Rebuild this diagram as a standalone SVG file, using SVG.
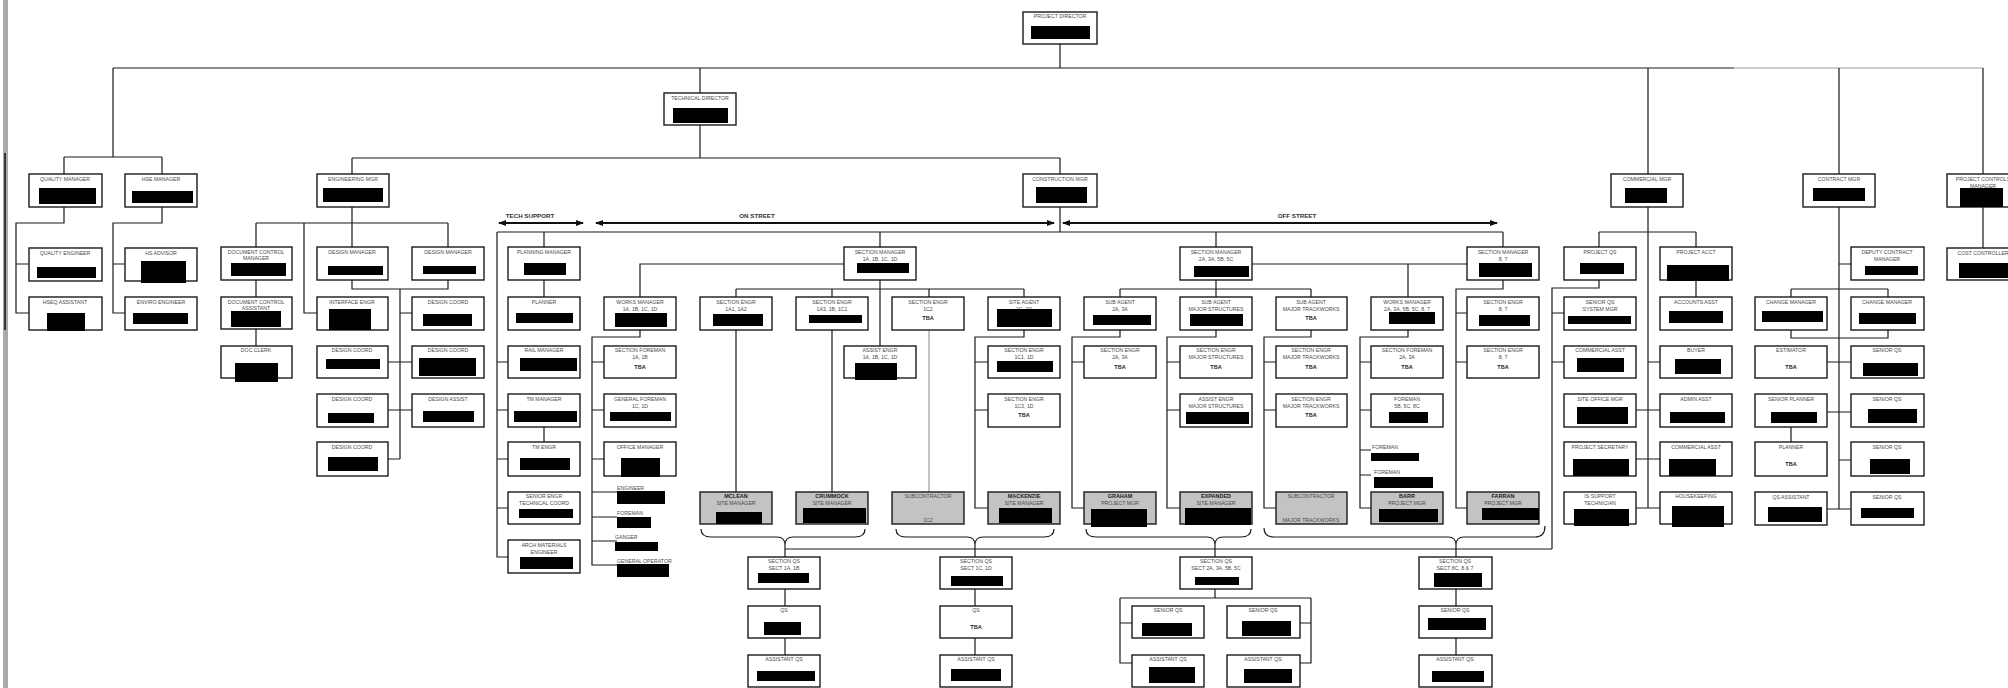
<svg xmlns="http://www.w3.org/2000/svg" width="2008" height="688" viewBox="0 0 2008 688">
<style>
.b{fill:#fff;stroke:#1a1a1a;stroke-width:1.4}
.g{fill:#c3c3c3;stroke:#1a1a1a;stroke-width:1.4}
.k{fill:#000}
text{font-family:"Liberation Sans",Arial,sans-serif;font-size:5.2px;fill:#4a4a4a;text-anchor:middle}
.s{font-weight:bold;fill:#222;font-size:5.5px}
.h{font-weight:bold;fill:#333;font-size:6.2px}
.l{text-anchor:start}
.c path{fill:none;stroke:#1a1a1a;stroke-width:1.2}
.c .gr{stroke:#999}
.br{fill:none;stroke:#555;stroke-width:1}
.ar{fill:none;stroke:#111;stroke-width:2}
</style>
<defs>
<marker id="ah" viewBox="0 0 8 6" refX="7" refY="3" markerWidth="4" markerHeight="3" orient="auto-start-reverse"><path d="M0,0 L8,3 L0,6 Z" fill="#111"/></marker>
</defs>
<rect x="0" y="0" width="2008" height="688" fill="#fff"/>
<rect x="3" y="0" width="5" height="688" fill="#aaa"/>
<path d="M5,153 V330" stroke="#111" stroke-width="1.5"/>

<g id="connectors" class="c">
<path d="M1060,44 V68 M113,68 H1734 M113,68 V157 M64,157 H162 M64,157 V174 M162,157 V174"/>
<path class="gr" d="M1734,68 H1983"/>
<path d="M700,68 V93 M700,125 V158 M352,158 H1060 M352,158 V174 M1060,158 V174 M1648,68 V174 M1839,68 V174 M1983,68 V174"/>
<path d="M64,207 V223 H16 V313 H29 M16,264 H29 M162,207 V223 H113 V313 H125 M113,264 H125"/>
<path d="M352,207 V223 M256,223 H448 M256,223 V247 M304,223 V313 H317 M352,223 V247 M448,223 V247 M256,280 V297 M256,329 V346 M352,280 V289 H448 V280 M400,289 V459 M400,313 H412 M388,362 H412 M388,410 H412 M388,459 H400"/>
<path d="M1060,207 V232 M497,232 H1503 M497,232 V557 H508 M497,362 H508 M497,410 H508 M497,459 H508 M497,508 H508 M544,232 V247 M544,280 V297 M544,427 V442 M880,232 V247 M1216,232 V247 M1503,232 V247"/>
<path d="M844,264 H640 V297 M640,330 V337 H592 V565 H617 M592,362 H604 M592,410 H604 M592,459 H604 M592,492 H617 M592,517 H617 M592,541 H617"/>
<path d="M880,280 V346 M736,289 H1024 M736,289 V297 M832,289 V297 M929,289 V297 M1024,289 V297 M736,330 V492 M832,330 V492 M1024,330 V337 H975 V508 H988 M975,362 H988 M975,410 H988"/>
<path class="gr" d="M929,330 V492"/>
<path d="M1252,264 H1467 M1408,264 V297 M1216,280 V297 M1120,289 H1311 M1120,289 V297 M1311,289 V297 M1120,330 V337 H1072 V508 H1084 M1072,362 H1084 M1216,330 V337 H1167 V508 H1180 M1167,362 H1180 M1167,410 H1180 M1311,330 V337 H1264 V508 H1276 M1264,362 H1276 M1264,410 H1276 M1408,330 V337 H1360 V508 H1371 M1360,362 H1371 M1360,410 H1371 M1360,450 H1371 M1360,475 H1371"/>
<path d="M1503,280 V289 H1456 V508 H1467 M1456,313 H1467 M1456,362 H1467"/>
<path d="M1648,207 V508 H1660 M1599,232 H1696 M1599,232 V247 M1696,232 V247 M1599,280 V288 H1552 V549 M1552,313 H1564 M1552,362 H1564 M1696,280 V297 M1636,410 H1660 M1636,459 H1660 M1636,508 H1648 M1648,362 H1660"/>
<path d="M785,549 H1552 M785,549 V557 M785,589 V606 M785,638 V655 M975,549 V557 M975,589 V606 M975,638 V655 M1215,549 V557 M1215,589 V598 M1120,598 H1311 M1120,598 V663 H1132 M1120,623 H1132 M1311,598 V663 H1300 M1311,623 H1300 M1456,549 V557 M1456,589 V606 M1456,638 V655"/>
<path d="M1839,207 V509 H1851 M1839,264 H1851 M1791,289 H1888 M1791,289 V297 M1888,289 V297 M1791,330 V338 H1888 V330 M1827,362 H1851 M1827,412 H1851 M1839,460 H1851 M1827,509 H1839 M1791,427 V442 M1983,207 V248"/>
<path class="br" d="M701,529 Q701,537 711,537 H777 Q785,537 785,545 Q785,537 793,537 H855 Q865,537 865,529"/>
<path class="br" d="M896,529 Q896,537 906,537 H967 Q975,537 975,545 Q975,537 983,537 H1044 Q1054,537 1054,529"/>
<path class="br" d="M1086,529 Q1086,537 1096,537 H1207 Q1215,537 1215,545 Q1215,537 1223,537 H1241 Q1251,537 1251,529"/>
<path class="br" d="M1264,528 Q1264,537 1274,537 H1448 Q1456,537 1456,545 Q1456,537 1464,537 H1535 Q1545,537 1545,526"/>
<path d="M785,545 V549 M975,545 V549 M1215,545 V549 M1456,545 V549"/>
</g>

<g id="section-labels">
<path class="ar" d="M499,223 H583" marker-start="url(#ah)" marker-end="url(#ah)"/>
<path class="ar" d="M596,223 H1054" marker-start="url(#ah)" marker-end="url(#ah)"/>
<path class="ar" d="M1063,223 H1497" marker-start="url(#ah)" marker-end="url(#ah)"/>
<text class="h" x="530" y="218">TECH SUPPORT</text>
<text class="h" x="757" y="218">ON STREET</text>
<text class="h" x="1297" y="218">OFF STREET</text>
</g>

<g id="n-pd"><rect class="b" x="1023" y="12" width="74" height="32"/><text x="1060" y="18">PROJECT DIRECTOR</text><rect class="k" x="1031" y="26" width="59" height="13"/></g>
<g id="n-td"><rect class="b" x="664" y="93" width="72" height="32"/><text x="700" y="100">TECHNICAL DIRECTOR</text><rect class="k" x="673" y="108" width="55" height="15"/></g>
<g id="n-qm"><rect class="b" x="29" y="174" width="73" height="33"/><text x="65" y="181">QUALITY MANAGER</text><rect class="k" x="39" y="188" width="57" height="16"/></g>
<g id="n-hse"><rect class="b" x="125" y="174" width="72" height="33"/><text x="161" y="181">HSE MANAGER</text><rect class="k" x="132" y="191" width="61" height="12"/></g>
<g id="n-eng"><rect class="b" x="317" y="174" width="72" height="33"/><text x="353" y="181">ENGINEERING MGR</text><rect class="k" x="323" y="188" width="60" height="14"/></g>
<g id="n-cm"><rect class="b" x="1023" y="174" width="74" height="33"/><text x="1060" y="181">CONSTRUCTION MGR</text><rect class="k" x="1036" y="187" width="51" height="16"/></g>
<g id="n-comm"><rect class="b" x="1611" y="174" width="72" height="33"/><text x="1647" y="181">COMMERCIAL MGR</text><rect class="k" x="1625" y="188" width="42" height="15"/></g>
<g id="n-con"><rect class="b" x="1803" y="174" width="72" height="33"/><text x="1839" y="181">CONTRACT MGR</text><rect class="k" x="1813" y="188" width="52" height="13"/></g>
<g id="n-pcm"><rect class="b" x="1947" y="174" width="72" height="33"/><text x="1983" y="181">PROJECT CONTROLS</text><text x="1983" y="188">MANAGER</text><rect class="k" x="1960" y="188" width="43" height="19"/></g>

<g id="n-qe"><rect class="b" x="29" y="248" width="73" height="33"/><text x="65" y="255">QUALITY ENGINEER</text><rect class="k" x="37" y="267" width="59" height="11"/></g>
<g id="n-qa"><rect class="b" x="29" y="297" width="73" height="33"/><text x="65" y="304">HSEQ ASSISTANT</text><rect class="k" x="47" y="313" width="38" height="18"/></g>
<g id="n-hsa"><rect class="b" x="125" y="248" width="72" height="33"/><text x="161" y="255">HS ADVISOR</text><rect class="k" x="141" y="261" width="45" height="22"/></g>
<g id="n-env"><rect class="b" x="125" y="297" width="72" height="33"/><text x="161" y="304">ENVIRO ENGINEER</text><rect class="k" x="133" y="313" width="55" height="11"/></g>

<g id="n-dcm"><rect class="b" x="221" y="247" width="71" height="33"/><text x="256" y="254">DOCUMENT CONTROL</text><text x="256" y="260">MANAGER</text><rect class="k" x="231" y="263" width="55" height="13"/></g>
<g id="n-dca"><rect class="b" x="221" y="297" width="71" height="32"/><text x="256" y="304">DOCUMENT CONTROL</text><text x="256" y="310">ASSISTANT</text><rect class="k" x="231" y="311" width="50" height="16"/></g>
<g id="n-dcl"><rect class="b" x="221" y="346" width="71" height="32"/><text x="256" y="352">DOC CLERK</text><rect class="k" x="235" y="363" width="43" height="19"/></g>
<g id="n-dm1"><rect class="b" x="317" y="247" width="71" height="33"/><text x="352" y="254">DESIGN MANAGER</text><rect class="k" x="328" y="266" width="55" height="9"/></g>
<g id="n-dm2"><rect class="b" x="412" y="247" width="72" height="33"/><text x="448" y="254">DESIGN MANAGER</text><rect class="k" x="423" y="266" width="53" height="8"/></g>
<g id="n-ie"><rect class="b" x="317" y="297" width="71" height="33"/><text x="352" y="304">INTERFACE ENGR</text><rect class="k" x="329" y="309" width="42" height="21"/></g>
<g id="n-dc1"><rect class="b" x="412" y="297" width="72" height="33"/><text x="448" y="304">DESIGN COORD</text><rect class="k" x="423" y="314" width="49" height="12"/></g>
<g id="n-dc2"><rect class="b" x="317" y="346" width="71" height="32"/><text x="352" y="352">DESIGN COORD</text><rect class="k" x="326" y="359" width="54" height="10"/></g>
<g id="n-dc3"><rect class="b" x="412" y="346" width="72" height="32"/><text x="448" y="352">DESIGN COORD</text><rect class="k" x="419" y="358" width="57" height="18"/></g>
<g id="n-dc4"><rect class="b" x="317" y="394" width="71" height="33"/><text x="352" y="401">DESIGN COORD</text><rect class="k" x="328" y="413" width="46" height="10"/></g>
<g id="n-da"><rect class="b" x="412" y="394" width="72" height="33"/><text x="448" y="401">DESIGN ASSIST</text><rect class="k" x="423" y="411" width="51" height="11"/></g>
<g id="n-dc5"><rect class="b" x="317" y="442" width="71" height="34"/><text x="352" y="449">DESIGN COORD</text><rect class="k" x="328" y="457" width="50" height="14"/></g>

<g id="n-plm"><rect class="b" x="508" y="247" width="72" height="33"/><text x="544" y="254">PLANNING MANAGER</text><rect class="k" x="524" y="263" width="42" height="12"/></g>
<g id="n-pl"><rect class="b" x="508" y="297" width="72" height="33"/><text x="544" y="304">PLANNER</text><rect class="k" x="516" y="313" width="57" height="10"/></g>
<g id="n-rm"><rect class="b" x="508" y="346" width="72" height="32"/><text x="544" y="352">RAIL MANAGER</text><rect class="k" x="520" y="358" width="57" height="13"/></g>
<g id="n-tmm"><rect class="b" x="508" y="394" width="72" height="33"/><text x="544" y="401">TM MANAGER</text><rect class="k" x="514" y="411" width="63" height="11"/></g>
<g id="n-tme"><rect class="b" x="508" y="442" width="72" height="34"/><text x="544" y="449">TM ENGR</text><rect class="k" x="520" y="458" width="50" height="12"/></g>
<g id="n-set"><rect class="b" x="508" y="492" width="72" height="32"/><text x="544" y="498">SENIOR ENGR</text><text x="544" y="505">TECHNICAL COORD</text><rect class="k" x="519" y="509" width="54" height="9"/></g>
<g id="n-ame"><rect class="b" x="508" y="540" width="72" height="33"/><text x="544" y="547">ARCH MATERIALS</text><text x="544" y="554">ENGINEER</text><rect class="k" x="520" y="557" width="53" height="12"/></g>

<g id="n-wm1"><rect class="b" x="604" y="297" width="72" height="33"/><text x="640" y="304">WORKS MANAGER</text><text x="640" y="311">1A, 1B, 1C, 1D</text><rect class="k" x="615" y="313" width="52" height="14"/></g>
<g id="n-sf1"><rect class="b" x="604" y="346" width="72" height="32"/><text x="640" y="352">SECTION FOREMAN</text><text x="640" y="359">1A, 1B</text><text class="s" x="640" y="369">TBA</text></g>
<g id="n-gf1"><rect class="b" x="604" y="394" width="72" height="33"/><text x="640" y="401">GENERAL FOREMAN</text><text x="640" y="408">1C, 1D</text><rect class="k" x="610" y="412" width="61" height="9"/></g>
<g id="n-om"><rect class="b" x="604" y="442" width="72" height="34"/><text x="640" y="449">OFFICE MANAGER</text><rect class="k" x="621" y="458" width="39" height="19"/></g>
<g id="n-eng1"><text class="l" x="617" y="490">ENGINEER</text><rect class="k" x="617" y="491" width="48" height="13"/></g>
<g id="n-fm1"><text class="l" x="617" y="515">FOREMAN</text><rect class="k" x="617" y="517" width="34" height="11"/></g>
<g id="n-gg1"><text class="l" x="615" y="539">GANGER</text><rect class="k" x="615" y="542" width="43" height="9"/></g>
<g id="n-go1"><text class="l" x="617" y="563">GENERAL OPERATOR</text><rect class="k" x="617" y="564" width="52" height="13"/></g>

<g id="n-sm1"><rect class="b" x="844" y="247" width="72" height="33"/><text x="880" y="254">SECTION MANAGER</text><text x="880" y="261">1A, 1B, 1C, 1D</text><rect class="k" x="857" y="263" width="52" height="10"/></g>
<g id="n-se1"><rect class="b" x="700" y="297" width="72" height="33"/><text x="736" y="304">SECTION ENGR</text><text x="736" y="311">1A1, 1A2</text><rect class="k" x="713" y="314" width="50" height="12"/></g>
<g id="n-se2"><rect class="b" x="796" y="297" width="72" height="33"/><text x="832" y="304">SECTION ENGR</text><text x="832" y="311">1A3, 1B, 1C1</text><rect class="k" x="809" y="315" width="53" height="8"/></g>
<g id="n-ae1"><rect class="b" x="844" y="346" width="72" height="32"/><text x="880" y="352">ASSIST ENGR</text><text x="880" y="359">1A, 1B, 1C, 1D</text><rect class="k" x="855" y="363" width="42" height="17"/></g>
<g id="n-se3"><rect class="b" x="892" y="297" width="72" height="33"/><text x="928" y="304">SECTION ENGR</text><text x="928" y="311">1C2</text><text class="s" x="928" y="320">TBA</text></g>
<g id="n-sa1"><rect class="b" x="988" y="297" width="72" height="33"/><text x="1024" y="304">SITE AGENT</text><text x="1024" y="311">1C, 1D</text><rect class="k" x="997" y="309" width="55" height="18"/></g>
<g id="n-se4"><rect class="b" x="988" y="346" width="72" height="32"/><text x="1024" y="352">SECTION ENGR</text><text x="1024" y="359">1C1, 1D</text><rect class="k" x="997" y="361" width="56" height="11"/></g>
<g id="n-se5"><rect class="b" x="988" y="394" width="72" height="33"/><text x="1024" y="401">SECTION ENGR</text><text x="1024" y="408">1C3, 1D</text><text class="s" x="1024" y="417">TBA</text></g>
<g id="n-mclean"><rect class="g" x="700" y="492" width="72" height="32"/><text class="s" x="736" y="498">MCLEAN</text><text x="736" y="505">SITE MANAGER</text><rect class="k" x="716" y="512" width="46" height="12"/></g>
<g id="n-crummock"><rect class="g" x="796" y="492" width="72" height="32"/><text class="s" x="832" y="498">CRUMMOCK</text><text x="832" y="505">SITE MANAGER</text><rect class="k" x="803" y="508" width="63" height="15"/></g>
<g id="n-sub1"><rect class="g" x="892" y="492" width="72" height="32"/><text x="928" y="498">SUBCONTRACTOR</text><text x="928" y="522">1C2</text></g>
<g id="n-mackenzie"><rect class="g" x="988" y="492" width="72" height="32"/><text class="s" x="1024" y="498">MACKENZIE</text><text x="1024" y="505">SITE MANAGER</text><rect class="k" x="999" y="508" width="53" height="15"/></g>

<g id="n-sm2"><rect class="b" x="1180" y="247" width="72" height="33"/><text x="1216" y="254">SECTION MANAGER</text><text x="1216" y="261">2A, 3A, 5B, 5C</text><rect class="k" x="1194" y="266" width="55" height="11"/></g>
<g id="n-sa2"><rect class="b" x="1084" y="297" width="72" height="33"/><text x="1120" y="304">SUB AGENT</text><text x="1120" y="311">2A, 3A</text><rect class="k" x="1093" y="315" width="58" height="10"/></g>
<g id="n-sa3"><rect class="b" x="1180" y="297" width="72" height="33"/><text x="1216" y="304">SUB AGENT</text><text x="1216" y="311">MAJOR STRUCTURES</text><rect class="k" x="1190" y="314" width="53" height="12"/></g>
<g id="n-sa4"><rect class="b" x="1276" y="297" width="71" height="33"/><text x="1311" y="304">SUB AGENT</text><text x="1311" y="311">MAJOR TRACKWORKS</text><text class="s" x="1311" y="320">TBA</text></g>
<g id="n-se6"><rect class="b" x="1084" y="346" width="72" height="32"/><text x="1120" y="352">SECTION ENGR</text><text x="1120" y="359">2A, 3A</text><text class="s" x="1120" y="369">TBA</text></g>
<g id="n-se7"><rect class="b" x="1180" y="346" width="72" height="32"/><text x="1216" y="352">SECTION ENGR</text><text x="1216" y="359">MAJOR STRUCTURES</text><text class="s" x="1216" y="369">TBA</text></g>
<g id="n-ae2"><rect class="b" x="1180" y="394" width="72" height="33"/><text x="1216" y="401">ASSIST ENGR</text><text x="1216" y="408">MAJOR STRUCTURES</text><rect class="k" x="1186" y="412" width="63" height="12"/></g>
<g id="n-se8"><rect class="b" x="1276" y="346" width="71" height="32"/><text x="1311" y="352">SECTION ENGR</text><text x="1311" y="359">MAJOR TRACKWORKS</text><text class="s" x="1311" y="369">TBA</text></g>
<g id="n-se9"><rect class="b" x="1276" y="394" width="71" height="33"/><text x="1311" y="401">SECTION ENGR</text><text x="1311" y="408">MAJOR TRACKWORKS</text><text class="s" x="1311" y="417">TBA</text></g>
<g id="n-graham"><rect class="g" x="1084" y="492" width="72" height="32"/><text class="s" x="1120" y="498">GRAHAM</text><text x="1120" y="505">PROJECT MGR</text><rect class="k" x="1091" y="509" width="56" height="18"/></g>
<g id="n-expanded"><rect class="g" x="1180" y="492" width="72" height="32"/><text class="s" x="1216" y="498">EXPANDED</text><text x="1216" y="505">SITE MANAGER</text><rect class="k" x="1185" y="508" width="66" height="17"/></g>
<g id="n-sub2"><rect class="g" x="1276" y="492" width="71" height="32"/><text x="1311" y="498">SUBCONTRACTOR</text><text x="1311" y="522">MAJOR TRACKWORKS</text></g>
<g id="n-wm2"><rect class="b" x="1371" y="297" width="72" height="33"/><text x="1407" y="304">WORKS MANAGER</text><text x="1407" y="311">2A, 3A, 5B, 5C, 8, 7</text><rect class="k" x="1389" y="312" width="46" height="12"/></g>
<g id="n-sf2"><rect class="b" x="1371" y="346" width="72" height="32"/><text x="1407" y="352">SECTION FOREMAN</text><text x="1407" y="359">2A, 3A</text><text class="s" x="1407" y="369">TBA</text></g>
<g id="n-fm2"><rect class="b" x="1371" y="394" width="72" height="33"/><text x="1407" y="401">FOREMAN</text><text x="1407" y="408">5B, 5C, 8C</text><rect class="k" x="1389" y="412" width="39" height="11"/></g>
<g id="n-fm3"><text class="l" x="1372" y="449">FOREMAN</text><rect class="k" x="1371" y="453" width="48" height="8"/></g>
<g id="n-fm4"><text class="l" x="1374" y="474">FOREMAN</text><rect class="k" x="1374" y="477" width="59" height="11"/></g>
<g id="n-barr"><rect class="g" x="1371" y="492" width="72" height="32"/><text class="s" x="1407" y="498">BARR</text><text x="1407" y="505">PROJECT MGR</text><rect class="k" x="1379" y="509" width="59" height="13"/></g>

<g id="n-sm3"><rect class="b" x="1467" y="247" width="72" height="33"/><text x="1503" y="254">SECTION MANAGER</text><text x="1503" y="261">8, 7</text><rect class="k" x="1479" y="263" width="53" height="14"/></g>
<g id="n-se10"><rect class="b" x="1467" y="297" width="72" height="33"/><text x="1503" y="304">SECTION ENGR</text><text x="1503" y="311">8, 7</text><rect class="k" x="1479" y="315" width="51" height="11"/></g>
<g id="n-se11"><rect class="b" x="1467" y="346" width="72" height="32"/><text x="1503" y="352">SECTION ENGR</text><text x="1503" y="359">8, 7</text><text class="s" x="1503" y="369">TBA</text></g>
<g id="n-farran"><rect class="g" x="1467" y="492" width="72" height="32"/><text class="s" x="1503" y="498">FARRAN</text><text x="1503" y="505">PROJECT MGR</text><rect class="k" x="1482" y="508" width="57" height="12"/></g>

<g id="n-pqs"><rect class="b" x="1564" y="247" width="72" height="33"/><text x="1600" y="254">PROJECT QS</text><rect class="k" x="1580" y="263" width="44" height="11"/></g>
<g id="n-pacct"><rect class="b" x="1660" y="247" width="72" height="33"/><text x="1696" y="254">PROJECT ACCT</text><rect class="k" x="1667" y="265" width="62" height="16"/></g>
<g id="n-sqss"><rect class="b" x="1564" y="297" width="72" height="33"/><text x="1600" y="304">SENIOR QS</text><text x="1600" y="311">SYSTEM MGR</text><rect class="k" x="1568" y="316" width="63" height="8"/></g>
<g id="n-aa"><rect class="b" x="1660" y="297" width="72" height="33"/><text x="1696" y="304">ACCOUNTS ASST</text><rect class="k" x="1669" y="311" width="54" height="12"/></g>
<g id="n-ca1"><rect class="b" x="1564" y="346" width="72" height="32"/><text x="1600" y="352">COMMERCIAL ASST</text><rect class="k" x="1577" y="358" width="47" height="14"/></g>
<g id="n-buyer"><rect class="b" x="1660" y="346" width="72" height="32"/><text x="1696" y="352">BUYER</text><rect class="k" x="1675" y="359" width="46" height="15"/></g>
<g id="n-som"><rect class="b" x="1564" y="394" width="72" height="33"/><text x="1600" y="401">SITE OFFICE MGR</text><rect class="k" x="1577" y="407" width="51" height="17"/></g>
<g id="n-adm"><rect class="b" x="1660" y="394" width="72" height="33"/><text x="1696" y="401">ADMIN ASST</text><rect class="k" x="1670" y="412" width="55" height="11"/></g>
<g id="n-ps"><rect class="b" x="1564" y="442" width="72" height="34"/><text x="1600" y="449">PROJECT SECRETARY</text><rect class="k" x="1573" y="459" width="56" height="17"/></g>
<g id="n-ca2"><rect class="b" x="1660" y="442" width="72" height="34"/><text x="1696" y="449">COMMERCIAL ASST</text><rect class="k" x="1669" y="459" width="47" height="17"/></g>
<g id="n-ist"><rect class="b" x="1564" y="492" width="72" height="32"/><text x="1600" y="498">IS SUPPORT</text><text x="1600" y="505">TECHNICIAN</text><rect class="k" x="1574" y="509" width="55" height="17"/></g>
<g id="n-hk"><rect class="b" x="1660" y="492" width="72" height="32"/><text x="1696" y="498">HOUSEKEEPING</text><rect class="k" x="1672" y="506" width="52" height="21"/></g>

<g id="n-dcon"><rect class="b" x="1851" y="247" width="73" height="33"/><text x="1887" y="254">DEPUTY CONTRACT</text><text x="1887" y="261">MANAGER</text><rect class="k" x="1865" y="266" width="53" height="9"/></g>
<g id="n-chm1"><rect class="b" x="1755" y="297" width="72" height="33"/><text x="1791" y="304">CHANGE MANAGER</text><rect class="k" x="1762" y="311" width="61" height="11"/></g>
<g id="n-chm2"><rect class="b" x="1851" y="297" width="73" height="33"/><text x="1887" y="304">CHANGE MANAGER</text><rect class="k" x="1859" y="313" width="57" height="11"/></g>
<g id="n-est"><rect class="b" x="1755" y="346" width="72" height="32"/><text x="1791" y="352">ESTIMATOR</text><text class="s" x="1791" y="369">TBA</text></g>
<g id="n-sq1"><rect class="b" x="1851" y="346" width="73" height="32"/><text x="1887" y="352">SENIOR QS</text><rect class="k" x="1863" y="363" width="55" height="13"/></g>
<g id="n-spl"><rect class="b" x="1755" y="394" width="72" height="33"/><text x="1791" y="401">SENIOR PLANNER</text><rect class="k" x="1771" y="412" width="46" height="11"/></g>
<g id="n-sq2"><rect class="b" x="1851" y="394" width="73" height="33"/><text x="1887" y="401">SENIOR QS</text><rect class="k" x="1868" y="409" width="49" height="14"/></g>
<g id="n-pl2"><rect class="b" x="1755" y="442" width="72" height="34"/><text x="1791" y="449">PLANNER</text><text class="s" x="1791" y="466">TBA</text></g>
<g id="n-sq3"><rect class="b" x="1851" y="442" width="73" height="34"/><text x="1887" y="449">SENIOR QS</text><rect class="k" x="1870" y="459" width="40" height="15"/></g>
<g id="n-qsa"><rect class="b" x="1755" y="492" width="72" height="33"/><text x="1791" y="499">QS ASSISTANT</text><rect class="k" x="1768" y="507" width="54" height="15"/></g>
<g id="n-sq4"><rect class="b" x="1851" y="492" width="73" height="33"/><text x="1887" y="499">SENIOR QS</text><rect class="k" x="1861" y="508" width="53" height="10"/></g>

<g id="n-cc"><rect class="b" x="1947" y="248" width="72" height="32"/><text x="1983" y="255">COST CONTROLLER</text><rect class="k" x="1959" y="263" width="49" height="15"/></g>

<g id="n-sqs1"><rect class="b" x="748" y="557" width="72" height="32"/><text x="784" y="563">SECTION QS</text><text x="784" y="570">SECT 1A, 1B</text><rect class="k" x="758" y="573" width="51" height="10"/></g>
<g id="n-qs1"><rect class="b" x="748" y="606" width="72" height="32"/><text x="784" y="612">QS</text><rect class="k" x="764" y="622" width="37" height="13"/></g>
<g id="n-aqs1"><rect class="b" x="748" y="655" width="72" height="32"/><text x="784" y="661">ASSISTANT QS</text><rect class="k" x="757" y="671" width="58" height="10"/></g>
<g id="n-sqs2"><rect class="b" x="940" y="557" width="72" height="32"/><text x="976" y="563">SECTION QS</text><text x="976" y="570">SECT 1C, 1D</text><rect class="k" x="951" y="576" width="52" height="10"/></g>
<g id="n-qs2"><rect class="b" x="940" y="606" width="72" height="32"/><text x="976" y="612">QS</text><text class="s" x="976" y="629">TBA</text></g>
<g id="n-aqs2"><rect class="b" x="940" y="655" width="72" height="32"/><text x="976" y="661">ASSISTANT QS</text><rect class="k" x="951" y="669" width="50" height="12"/></g>
<g id="n-sqs3"><rect class="b" x="1180" y="557" width="72" height="32"/><text x="1216" y="563">SECTION QS</text><text x="1216" y="570">SECT 2A, 3A, 5B, 5C</text><rect class="k" x="1195" y="577" width="44" height="8"/></g>
<g id="n-sqa"><rect class="b" x="1132" y="606" width="72" height="32"/><text x="1168" y="612">SENIOR QS</text><rect class="k" x="1142" y="623" width="50" height="13"/></g>
<g id="n-sqb"><rect class="b" x="1227" y="606" width="73" height="32"/><text x="1263" y="612">SENIOR QS</text><rect class="k" x="1242" y="621" width="49" height="15"/></g>
<g id="n-aqsa"><rect class="b" x="1132" y="655" width="72" height="32"/><text x="1168" y="661">ASSISTANT QS</text><rect class="k" x="1149" y="667" width="46" height="16"/></g>
<g id="n-aqsb"><rect class="b" x="1227" y="655" width="73" height="32"/><text x="1263" y="661">ASSISTANT QS</text><rect class="k" x="1244" y="669" width="48" height="14"/></g>
<g id="n-sqs4"><rect class="b" x="1419" y="557" width="73" height="32"/><text x="1455" y="563">SECTION QS</text><text x="1455" y="570">SECT 8C, 8 &amp; 7</text><rect class="k" x="1434" y="573" width="48" height="14"/></g>
<g id="n-sqc"><rect class="b" x="1419" y="606" width="73" height="32"/><text x="1455" y="612">SENIOR QS</text><rect class="k" x="1428" y="618" width="58" height="12"/></g>
<g id="n-aqsc"><rect class="b" x="1419" y="655" width="73" height="32"/><text x="1455" y="661">ASSISTANT QS</text><rect class="k" x="1432" y="671" width="52" height="11"/></g>
</svg>
